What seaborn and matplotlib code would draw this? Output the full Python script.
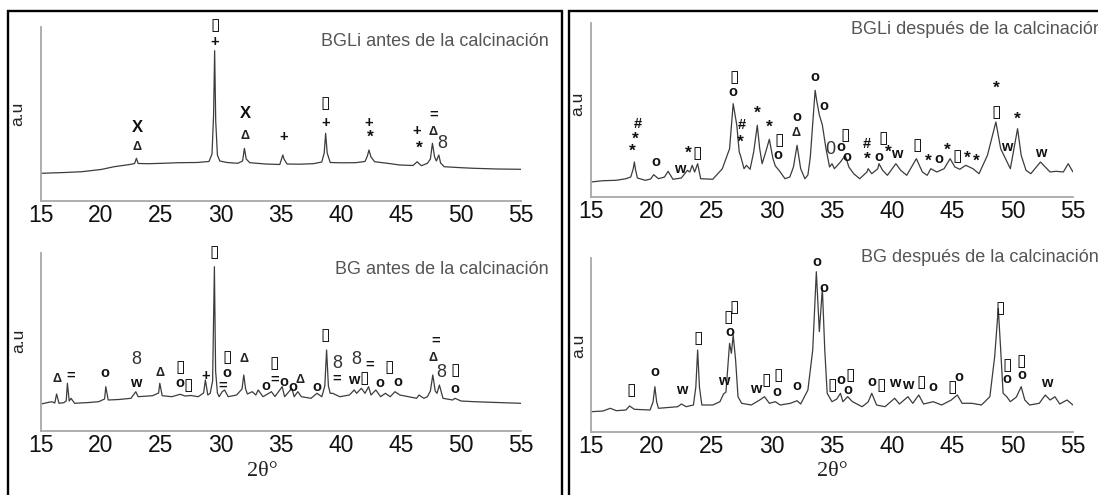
import matplotlib
matplotlib.use("Agg")
import matplotlib.pyplot as plt
import seaborn as sns
from matplotlib.patches import Rectangle

sns.set_style("white")
plt.rcParams["font.family"] = ["Liberation Sans", "DejaVu Sans"]

# ---------------- data (2theta in degrees, intensity in a.u.) ----------------
tl_2theta = [15.0, 17.0, 18.4, 20.0, 21.1, 22.4, 22.8, 22.95, 23.1, 24.0, 25.1, 26.5, 28.0, 29.0,
             29.25, 29.38, 29.47, 29.56, 29.7, 29.9, 30.5, 31.4, 31.8, 31.95, 32.1, 32.4, 33.7, 34.9,
             35.15, 35.25, 35.5, 36.5, 37.7, 38.4, 38.6, 38.72, 38.85, 39.1, 40.0, 41.2, 42.0, 42.2,
             42.33, 42.5, 42.8, 44.0, 44.9, 46.0, 46.35, 46.45, 46.7, 47.2, 47.45, 47.62, 47.8, 47.95,
             48.15, 48.3, 48.6, 50.0, 51.1, 53.0, 55.0]
tl_int = [27.7, 28.5, 29.3, 31.5, 34.3, 36.5, 37.5, 42.7, 37.5, 37.3, 37.7, 38.3, 38.5, 39.5,
          47, 85, 150.3, 80, 46, 40, 38.5, 37.7, 40, 52.7, 42, 38.3, 37, 36.5,
          46, 42, 37, 36.8, 37.3, 39, 48, 67.7, 48, 38.5, 38.2, 38.3, 39.5, 45,
          51, 44, 39.3, 37.5, 36, 35.5, 39.3, 38, 35.3, 37.7, 42, 57.7, 44, 40,
          46, 38, 34.3, 33.3, 32.7, 32, 31.7]

tr_2theta = [15.0, 16.0, 17.1, 17.9, 18.3, 18.5, 18.6, 18.7, 18.85, 19.5, 19.95, 20.2, 20.6, 21.1,
             21.4, 21.8, 22.5, 23.0, 23.2, 23.4, 23.6, 23.85, 24.1, 25.1, 25.9, 26.5, 26.8, 27.1,
             27.3, 27.4, 27.7, 27.9, 28.2, 28.5, 28.8, 29.0, 29.2, 29.5, 29.8, 30.1, 30.3, 30.6,
             31.1, 31.5, 31.8, 32.1, 32.4, 32.75, 33.0, 33.2, 33.35, 33.6, 33.75, 33.95, 34.2, 34.5,
             34.8, 35.0, 35.2, 35.7, 36.1, 36.4, 36.8, 37.3, 37.9, 38.0, 38.3, 38.8, 38.9, 39.2,
             39.6, 40.3, 40.7, 41.2, 42.0, 42.5, 42.9, 43.2, 43.7, 44.3, 44.8, 45.2, 45.6, 46.1,
             46.7, 47.2, 47.9, 48.6, 49.0, 49.4, 49.8, 50.4, 50.7, 51.1, 51.5, 52.3, 53.1, 53.6,
             54.2, 54.6, 55.0]
tr_int = [15, 16.3, 16.7, 18.3, 20, 28, 35, 27, 19, 16.7, 18, 22.3, 18.3, 20,
          25.7, 17.7, 19, 26.7, 25, 31.7, 25, 33.3, 18.3, 17.7, 28.3, 48.3, 93.3, 71.7,
          45, 41.7, 28.3, 31.7, 27.7, 45, 71.7, 48.3, 33.3, 45, 57.7, 38.3, 31, 26.7,
          18.3, 20, 30, 51.7, 28.3, 18.3, 22, 40, 65, 106.7, 95, 82, 72, 48.3,
          30, 33.3, 28.3, 35, 41.7, 30, 23.3, 18.3, 25, 28.3, 23.3, 28.3, 33.3, 26.7,
          21.7, 33.3, 26.7, 21.7, 38.3, 25, 21.7, 28.3, 25, 28.3, 38.3, 30, 27.7, 31.7,
          28.3, 23.3, 41.7, 75, 48.3, 38.3, 28.3, 68.3, 41.7, 26.7, 23.3, 35, 25, 25.7,
          25, 33.3, 25]

bl_2theta = [15.0, 15.5, 15.9, 16.15, 16.3, 16.5, 16.9, 17.1, 17.2, 17.35, 17.5, 17.8, 19.0, 19.8,
             20.3, 20.4, 20.6, 21.5, 22.5, 22.9, 23.1, 24.3, 24.8, 24.9, 25.1, 25.9, 26.6, 27.0,
             27.5, 28.1, 28.55, 28.7, 28.9, 29.1, 29.3, 29.45, 29.55, 29.7, 29.85, 30.1, 30.3, 30.6,
             31.3, 31.75, 31.9, 32.05, 32.2, 32.6, 32.9, 33.1, 33.5, 34.2, 34.5, 35.1, 35.3, 35.9,
             36.1, 36.4, 36.7, 37.5, 38.0, 38.4, 38.65, 38.8, 38.95, 39.1, 39.3, 39.9, 40.7, 41.1,
             41.3, 41.7, 42.0, 42.3, 42.5, 42.9, 43.3, 43.7, 44.1, 44.5, 44.9, 46.3, 46.5, 46.9,
             47.2, 47.45, 47.65, 47.85, 48.0, 48.2, 48.5, 49.3, 49.5, 50.0, 51.1, 53.0, 55.0]
bl_int = [27, 28.3, 29.3, 28, 37, 27.7, 28.3, 30, 47.7, 30, 32.7, 27.7, 28.5, 29.3,
          32, 44.3, 31, 31.5, 32.7, 39.3, 34.3, 35.3, 38, 47.7, 35.3, 34.3, 36.7, 35,
          35.5, 34.3, 38, 51, 36, 37.7, 50, 164.3, 60, 38, 34.3, 39.3, 41, 34.3,
          36, 42, 56, 42, 37, 39.3, 36, 41, 34.3, 39.3, 34.5, 44.3, 34.3, 42.7,
          34.3, 39.3, 34.3, 32.7, 37.7, 34.3, 45, 81, 45, 37.7, 37.7, 34.3, 36, 41,
          37.7, 42.7, 37.7, 44.3, 36, 41, 34.3, 37.7, 34.3, 39.3, 36, 32.7, 36, 32.7,
          34.3, 40, 56, 40, 37.7, 46, 32.7, 31, 32.7, 30, 29.3, 28.5, 27.7]

br_2theta = [15.0, 16.0, 16.6, 17.1, 17.9, 18.2, 18.6, 19.9, 20.15, 20.3, 20.45, 20.6, 22.2, 22.5,
             22.9, 23.5, 23.7, 23.85, 24.0, 24.2, 25.1, 25.7, 26.0, 26.2, 26.5, 26.65, 26.8, 27.0,
             27.2, 27.5, 28.3, 29.0, 29.4, 29.8, 30.3, 30.7, 31.55, 32.1, 32.4, 33.0, 33.4, 33.7,
             33.95, 34.2, 34.4, 34.6, 35.0, 35.4, 35.7, 35.9, 36.3, 36.7, 37.5, 38.0, 38.3, 38.7,
             39.4, 40.2, 40.6, 41.3, 41.7, 42.2, 42.6, 43.4, 44.1, 44.9, 45.4, 45.8, 46.6, 47.4,
             48.1, 48.5, 48.8, 49.0, 49.2, 49.5, 49.8, 50.3, 50.7, 51.0, 51.4, 52.2, 52.7, 53.1,
             53.5, 53.9, 54.5, 55.0]
br_int = [20.3, 21, 23.7, 21.3, 22, 26, 22.7, 22, 30, 45.3, 30, 23.7, 25.3, 28,
          25.3, 27, 45, 82, 45, 27, 27, 30.3, 38, 40, 88.7, 78.7, 97, 72,
          35.3, 28.7, 27, 32, 35.3, 28.7, 30.3, 27, 28.7, 31.3, 28, 42, 82, 160.3,
          100.3, 143.7, 82, 38.7, 30.3, 33, 38.7, 30.3, 35.3, 30.3, 25.3, 30, 38.7, 27,
          25.3, 33.7, 28, 35.3, 28.7, 37, 28, 30.3, 27, 32, 37, 28.7, 28.7, 27,
          35.3, 75.3, 123.7, 82, 38.7, 35.3, 30.3, 35, 45.3, 32, 27, 28.7, 37, 32,
          35.3, 28, 32, 27]

# phase markers: position (2theta), height (a.u.), symbol
tl_mark_x = [23.0, 23.0, 29.5, 29.5, 32.0, 32.0, 35.2, 38.7, 38.7, 42.3, 42.4, 46.3, 46.5, 47.7, 47.7, 48.4]
tl_mark_y = [73.7, 54.3, 176, 159.3, 87, 65, 63.7, 98.3, 77.7, 77.7, 63.7, 70.3, 52.7, 86.7, 69.3, 57]
tl_mark_s = ["X", "Δ", "▯", "+", "X", "Δ", "+", "▯", "+", "+", "*", "+", "*", "=", "Δ", "8"]

tr_mark_x = [18.85, 18.7, 18.4, 20.4, 22.4, 23.05, 23.8, 26.9, 26.8, 27.5, 27.4, 28.8, 29.8, 30.6,
             30.5, 32.1, 32.05, 33.55, 34.3, 34.9, 35.7, 36.1, 36.2, 37.9, 37.9, 38.9, 39.25, 39.65,
             40.4, 42.1, 43.0, 43.9, 44.6, 45.4, 46.2, 47.0, 48.6, 48.6, 49.5, 50.4, 52.3]
tr_mark_y = [73.3, 58, 45.5, 35, 28.3, 43.3, 44.3, 120, 105, 71.7, 55, 83.3, 70, 56.7,
             41.7, 80, 64.3, 120, 91, 47.7, 50, 61.7, 40, 53.3, 37.7, 40, 59, 45,
             43.3, 52.3, 35.7, 37.7, 47, 41, 39, 35.7, 109, 85, 50, 77.7, 44.3]
tr_mark_s = ["#", "*", "*", "o", "w", "*", "▯", "▯", "o", "#", "*", "*", "*", "▯",
             "o", "o", "Δ", "o", "o", "0", "o", "▯", "o", "#", "*", "o", "▯", "*",
             "w", "▯", "*", "o", "*", "▯", "*", "*", "*", "▯", "w", "*", "w"]

bl_mark_x = [16.3, 17.5, 20.3, 22.9, 22.9, 24.9, 26.6, 26.6, 27.3, 28.7, 29.45, 30.5, 30.5, 30.1,
             31.9, 33.75, 34.45, 34.45, 35.2, 36.0, 36.6, 38.0, 38.7, 39.7, 39.6, 41.3, 41.1, 41.9,
             42.4, 43.2, 44.0, 44.7, 47.9, 47.7, 48.35, 49.5, 49.5]
bl_mark_y = [51.7, 55, 57.7, 71, 48.3, 57.7, 64.3, 48.3, 46, 55, 179.3, 73.7, 57.7, 45.5,
             71.7, 45, 68, 51, 48.5, 44.3, 51, 44.3, 96, 67.7, 52.7, 71, 51, 52.7,
             66, 48.3, 64.3, 49.3, 90.3, 72.7, 58.3, 61, 41.7]
bl_mark_s = ["Δ", "=", "o", "8", "w", "Δ", "▯", "o", "▯", "+", "▯", "▯", "o", "=",
             "Δ", "o", "▯", "=", "o", "o", "Δ", "o", "▯", "8", "=", "8", "w", "▯",
             "=", "o", "▯", "o", "=", "Δ", "8", "▯", "o"]

br_mark_x = [18.3, 20.3, 22.5, 23.9, 26.0, 26.4, 26.5, 26.9, 28.7, 29.5, 30.5, 30.4, 32.1, 33.75,
             34.3, 35.05, 35.7, 36.5, 36.3, 38.3, 39.1, 40.2, 41.3, 42.4, 43.4, 45.0, 45.5, 49.0,
             49.5, 49.5, 50.7, 50.75, 52.8]
br_mark_y = [42, 59.7, 42, 93.7, 51.3, 115.3, 100.3, 125.3, 42.7, 52, 57, 40.3, 46, 170.3,
             143.7, 47, 52, 57, 42, 50.3, 47, 48.7, 47, 50.3, 45.3, 45.3, 55.3, 123.7,
             67, 52.7, 71.3, 57, 49.3]
br_mark_s = ["▯", "o", "w", "▯", "w", "▯", "o", "▯", "w", "▯", "▯", "o", "o", "o",
             "o", "▯", "o", "▯", "o", "o", "▯", "w", "w", "▯", "o", "▯", "o", "▯",
             "▯", "o", "▯", "o", "w"]

titles = ["BGLi antes de la calcinación", "BGLi después de la calcinación",
          "BG antes de la calcinación", "BG después de la calcinación"]
xticks = [15, 20, 25, 30, 35, 40, 45, 50, 55]

# ---------------- figure ----------------
W, H = 1098, 495
fig = plt.figure(figsize=(W / 100, H / 100), dpi=100)


def fx(px):
    return px / W


def fy(py):
    return 1 - py / H


# outer frames
fig.patches.append(Rectangle((fx(8), fy(505)), fx(562) - fx(8), (505 - 11) / H, fill=False,
                             edgecolor="black", linewidth=1.7, transform=fig.transFigure))
fig.patches.append(Rectangle((fx(569), fy(505)), fx(1115) - fx(569), (505 - 11) / H, fill=False,
                             edgecolor="black", linewidth=1.7, transform=fig.transFigure))

panels = [
    (tl_2theta, tl_int, tl_mark_x, tl_mark_y, tl_mark_s, (41, 521, 27, 201)),
    (tr_2theta, tr_int, tr_mark_x, tr_mark_y, tr_mark_s, (591, 1073, 23, 197)),
    (bl_2theta, bl_int, bl_mark_x, bl_mark_y, bl_mark_s, (41, 521, 253, 431)),
    (br_2theta, br_int, br_mark_x, br_mark_y, br_mark_s, (591, 1073, 258, 432)),
]


def mark_style(s):
    if s == "▯":
        return dict(fontsize=12.5, family=["DejaVu Sans"], fontweight="bold", color="#111111")
    if s in ("8", "0"):
        return dict(fontsize=13, fontweight="normal", color="#333333")
    if s == "Δ":
        return dict(fontsize=9, fontweight="bold", color="#222222")
    if s == "*":
        return dict(fontsize=12.5, fontweight="bold", color="#111111")
    if s == "X":
        return dict(fontsize=12, fontweight="bold", color="#111111")
    return dict(fontsize=10.5, fontweight="bold", color="#111111")


axes = []
for tt, ii, mx, my, ms, (l, r, t, b) in panels:
    ax = fig.add_axes([fx(l), fy(b), (r - l) / W, (b - t) / H])
    ax.set_facecolor("none")
    sns.lineplot(x=tt, y=ii, ax=ax, color="#3c3c3c", linewidth=0.9, estimator=None)
    ax.set_xlim(15, 55)
    ax.set_ylim(0, b - t)
    ax.set_xticks(xticks)
    ax.set_xticklabels([str(v) for v in xticks])
    ax.set_yticks([])
    ax.set_xlabel("")
    ax.set_ylabel("")
    for side in ("top", "right"):
        ax.spines[side].set_visible(False)
    for side in ("left", "bottom"):
        ax.spines[side].set_color("#a8a8a8")
        ax.spines[side].set_linewidth(1.3)
    ax.tick_params(axis="x", length=0, pad=2.5, labelsize=16.5, labelcolor="#111111")
    for x, y, s in zip(mx, my, ms):
        ax.text(x, y, s, ha="center", va="center", clip_on=False, **mark_style(s))
    axes.append(ax)

# panel titles
for (x, y), txt in zip([(321, 41), (851, 30), (335, 270), (861, 257)], titles):
    fig.text(fx(x), fy(y), txt, ha="left", va="center", fontsize=13, color="#555555")

# y labels
for x, y in [(18, 114), (578, 104), (19, 341), (579, 346)]:
    fig.text(fx(x), fy(y), "a.u", rotation=90, ha="center", va="center", fontsize=12.5,
             color="#222222")

# x labels
for x, y in [(262, 472), (832, 472)]:
    fig.text(fx(x), fy(y), "2θ°", ha="center", va="center", fontsize=16,
             family=["Liberation Serif", "DejaVu Serif"], color="#222222")

fig.savefig("out.png", dpi=100)
